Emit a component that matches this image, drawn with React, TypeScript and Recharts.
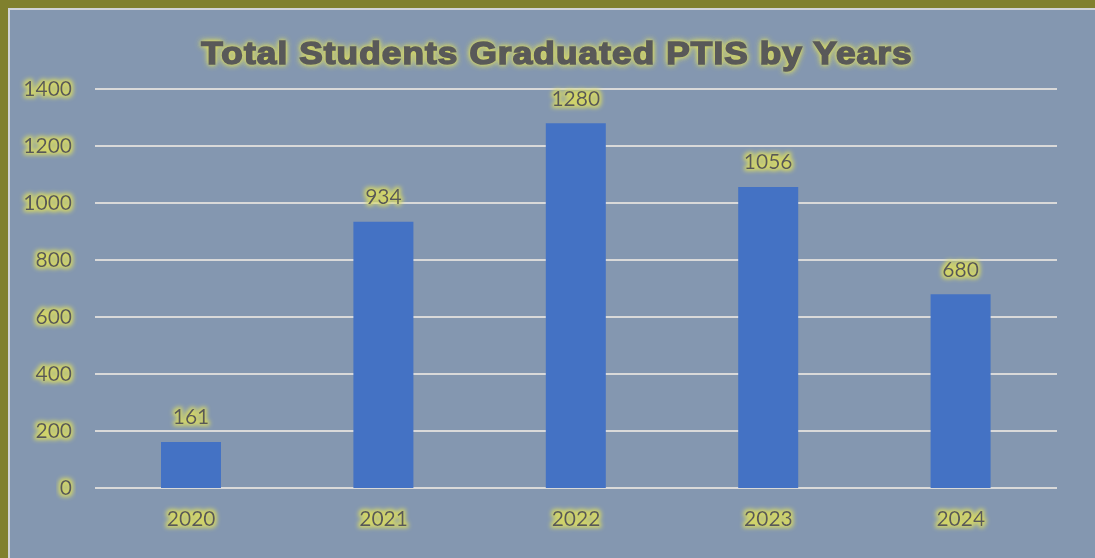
import React from "react";
import { BarChart, Bar, XAxis, YAxis, CartesianGrid, LabelList } from "recharts";

const years = ["2020", "2021", "2022", "2023", "2024"];
const graduates = [161, 934, 1280, 1056, 680];
const yTicks = [0, 200, 400, 600, 800, 1000, 1200, 1400];
const titleText = "Total Students Graduated PTIS by Years";

const data = years.map((y, i) => ({ year: y, value: graduates[i] }));

const FONT = "Lato, 'Open Sans', sans-serif";
const TEXT = "#595959";

const YTick = (props: any) => {
  const { x, y, payload } = props;
  return (
    <text x={x - 15} y={y} dy="0.35em" textAnchor="end" fill={TEXT} fontFamily={FONT} fontSize={21} filter="url(#glow)">
      {payload.value}
    </text>
  );
};

const XTick = (props: any) => {
  const { x, y, payload } = props;
  return (
    <text x={x} y={y + 23} dy="0.35em" textAnchor="middle" fill={TEXT} fontFamily={FONT} fontSize={21} filter="url(#glow)">
      {payload.value}
    </text>
  );
};

const ValueLabel = (props: any) => {
  const { x, y, width, value } = props;
  return (
    <text x={x + width / 2} y={y - 25} dy="0.35em" textAnchor="middle" fill={TEXT} fontFamily={FONT} fontSize={21} filter="url(#glow)">
      {value}
    </text>
  );
};

export default function App() {
  return (
    <div style={{ position: "absolute", left: 0, top: 0, width: 1095, height: 558, overflow: "hidden", background: "#80802e" }}>
      <svg width={0} height={0} style={{ position: "absolute" }}>
        <defs>
          <filter id="glow" x="-30%" y="-50%" width="160%" height="200%">
            <feMorphology in="SourceAlpha" operator="dilate" radius="2" result="d" />
            <feGaussianBlur in="d" stdDeviation="2.2" result="b" />
            <feFlood floodColor="#d6d865" floodOpacity="0.95" />
            <feComposite in2="b" operator="in" result="g" />
            <feMerge>
              <feMergeNode in="g" />
              <feMergeNode in="SourceGraphic" />
            </feMerge>
          </filter>
        </defs>
      </svg>
      <div style={{ position: "absolute", left: 8, top: 8, width: 1100, height: 560, border: "2px solid #d0d3d8", background: "#8497b0" }} />
      <div
        style={{
          position: "absolute",
          left: 10,
          top: 33,
          width: 1094,
          textAlign: "center",
          fontFamily: "'Liberation Sans', Arial, sans-serif",
          fontWeight: 700,
          fontSize: 32,
          lineHeight: "40px",
          letterSpacing: "1px",
          color: TEXT,
          WebkitTextStroke: "1.6px #595959",
          transform: "scaleX(1.1)",
          textShadow: "0 0 3px #d6d865, 0 0 5px #d6d865, 0 0 7px #d6d865, 0 0 7px #d6d865",
        }}
      >
        {titleText}
      </div>
      <div style={{ position: "absolute", left: 10, top: 10 }}>
        <BarChart width={1100} height={560} data={data} margin={{ top: 79, right: 53, left: 0, bottom: 0 }}>
          <CartesianGrid vertical={false} stroke="#d9d9d9" strokeWidth={2} />
          <XAxis dataKey="year" axisLine={false} tickLine={false} height={82} tick={<XTick />} interval={0} />
          <YAxis
            width={85}
            domain={[0, 1400]}
            ticks={yTicks}
            axisLine={false}
            tickLine={false}
            tick={<YTick />}
            interval={0}
          />
          <Bar dataKey="value" fill="#4472c4" barSize={60} isAnimationActive={false}>
            <LabelList dataKey="value" content={<ValueLabel />} />
          </Bar>
        </BarChart>
      </div>
    </div>
  );
}
